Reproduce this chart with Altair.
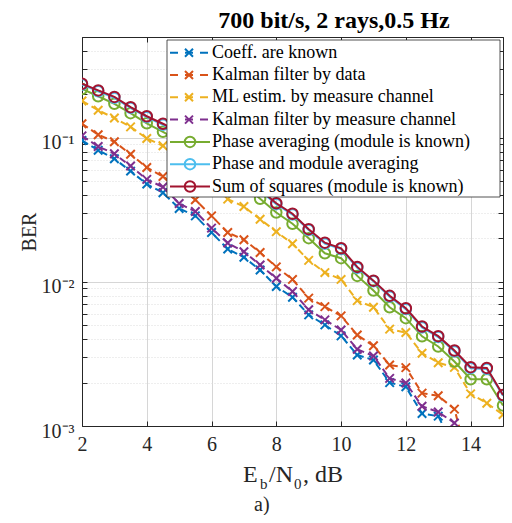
import altair as alt
import pandas as pd

# ---------------- data ----------------
EBN0 = [2.0, 2.5, 3.0, 3.5, 4.0, 4.5, 5.0, 5.5, 6.0, 6.5, 7.0, 7.5, 8.0, 8.5,
        9.0, 9.5, 10.0, 10.5, 11.0, 11.5, 12.0, 12.5, 13.0, 13.5, 14.0, 14.5, 15.0]

NAMES = [
    "Coeff. are known",
    "Kalman filter by data",
    "ML estim. by measure channel",
    "Kalman filter by measure channel",
    "Phase averaging (module is known)",
    "Phase and module averaging",
    "Sum of squares (module is known)",
]
COLORS = ["#0072BD", "#D95319", "#EDB120", "#7E2F8E", "#77AC30", "#4DBEEE", "#A2142F"]
DASHED = [True, True, True, True, False, False, False]

BER_COEFF = [0.0958, 0.0819, 0.0715, 0.0587, 0.0477, 0.0415, 0.0323, 0.0287, 0.0220,
             0.0169, 0.0148, 0.0121, 0.00928, 0.00783, 0.00590, 0.00503, 0.00422,
             0.00311, 0.00287, 0.00200, 0.00187, 0.00122, 0.00117, 0.0007]
BER_KALMAN_DATA = [0.125, 0.105, 0.0938, 0.0768, 0.0622, 0.0538, 0.0450, 0.0371, 0.0287,
                   0.0220, 0.0196, 0.0160, 0.0127, 0.0104, 0.00771, 0.00673, 0.00581,
                   0.00428, 0.00360, 0.00265, 0.00254, 0.00169, 0.00162, 0.00131, 0.0005]
BER_ML = [0.180, 0.155, 0.137, 0.119, 0.0989, 0.0880, 0.0726, 0.0581, 0.0450, 0.0375,
          0.0333, 0.0272, 0.0223, 0.0184, 0.0141, 0.0116, 0.0104, 0.00741, 0.00667,
          0.00470, 0.00445, 0.00320, 0.00275, 0.00255, 0.00167, 0.00144, 0.00120]
BER_KALMAN_MEAS = [0.103, 0.0870, 0.0774, 0.0636, 0.0514, 0.0455, 0.0350, 0.0308, 0.0236,
                   0.0186, 0.0162, 0.0131, 0.0106, 0.00857, 0.00640, 0.00545, 0.00464,
                   0.00341, 0.00306, 0.00214, 0.00199, 0.00137, 0.00125, 0.00105, 0.0006]
BER_PHASE = [0.218, 0.194, 0.172, 0.148, 0.126, 0.110, 0.0953, 0.0826, 0.0703, 0.0581,
             0.0472, 0.0377, 0.0303, 0.0253, 0.0201, 0.0158, 0.0146, 0.0110, 0.00871,
             0.00667, 0.00560, 0.00419, 0.00356, 0.00280, 0.00211, 0.00211, 0.00139]
BER_PHASE_MOD = [0.234, 0.210, 0.189, 0.161, 0.139, 0.123, 0.108, 0.094, 0.080, 0.066,
                 0.0545, 0.0429, 0.0346, 0.0293, 0.0229, 0.0184, 0.0169, 0.0125, 0.0101,
                 0.0079, 0.00647, 0.00483, 0.00414, 0.00329, 0.00252, 0.00249, 0.00162]
BER_SUMSQ = [0.237, 0.213, 0.192, 0.163, 0.141, 0.125, 0.110, 0.0953, 0.0812, 0.0670,
             0.0553, 0.0435, 0.0351, 0.0297, 0.0232, 0.0187, 0.0171, 0.0127, 0.0102,
             0.0080, 0.00656, 0.00490, 0.00420, 0.00334, 0.00256, 0.00253, 0.00164]

SERIES = [BER_COEFF, BER_KALMAN_DATA, BER_ML, BER_KALMAN_MEAS,
          BER_PHASE, BER_PHASE_MOD, BER_SUMSQ]

X_TICKS = [2, 4, 6, 8, 10, 12, 14]
Y_TICKS = [0.001, 0.002, 0.003, 0.004, 0.005, 0.006, 0.007, 0.008, 0.009,
           0.01, 0.02, 0.03, 0.04, 0.05, 0.06, 0.07, 0.08, 0.09,
           0.1, 0.2, 0.3, 0.4, 0.5]

TITLE = "700 bit/s, 2 rays,0.5 Hz"

# ---------------- styling ----------------
FONT = "Liberation Serif"
INK = "#262626"
MAJOR = "datum.value == 0.1 || datum.value == 0.01 || datum.value == 0.001"
X_SHAPE = "M-1,-1L1,1M-1,1L1,-1"
W, H = 421, 389

xs = alt.Scale(domain=[2, 15], nice=False, zero=False)
ys = alt.Scale(type="log", domain=[0.001, 0.5], nice=False)
cs = alt.Scale(domain=NAMES, range=COLORS)

x_axis = alt.Axis(values=X_TICKS, title=None, labelFont=FONT, labelFontSize=20,
                  labelColor=INK, labelPadding=13, labelFlush=False, labelOverlap=False,
                  tickSize={"expr": "-5"}, tickColor=INK, domainColor=INK,
                  gridColor="#d6d6d6")
y_axis = alt.Axis(values=Y_TICKS,
                  labelExpr="datum.value == 0.1 ? '10⁻¹' : datum.value == 0.01 ? '10⁻²' : datum.value == 0.001 ? '10⁻³' : ''",
                  title="BER", titleFont=FONT, titleFontSize=20, titleFontWeight="normal",
                  titleColor=INK, titlePadding=2,
                  labelFont=FONT, labelFontSize=20, labelColor=INK, labelPadding=13,
                  labelOverlap=False, labelFlush=False, labelOffset=5,
                  tickSize={"expr": "-5"}, tickColor=INK, domainColor=INK,
                  gridColor={"condition": {"test": MAJOR, "value": "#d6d6d6"}, "value": "#dcdcdc"},
                  gridDash={"condition": {"test": MAJOR, "value": []}, "value": [1, 2]})

color_enc = alt.Color("name:N", scale=cs, legend=None)

layers = []
first = True
for name, vals, dashed in zip(NAMES, SERIES, DASHED):
    d = pd.DataFrame({"name": name, "x": EBN0[:len(vals)], "ber": vals})

    def enc(with_axis):
        return dict(
            x=alt.X("x:Q", scale=xs, axis=x_axis if with_axis else None),
            y=alt.Y("ber:Q", scale=ys, axis=y_axis if with_axis else None),
            color=color_enc,
        )

    line_kw = dict(strokeWidth=2, clip=True)
    if dashed:
        line_kw["strokeDash"] = [7, 4]
    layers.append(alt.Chart(d).mark_line(**line_kw).encode(**enc(first)))
    first = False
    layers.append(
        alt.Chart(d).mark_point(shape=X_SHAPE if dashed else "circle",
                                size=72 if dashed else 110, filled=False,
                                strokeWidth=2, opacity=1, clip=True).encode(**enc(False))
    )

# box ticks on the top and right edges (MATLAB "box on")
frame_df = pd.DataFrame({"x": EBN0, "ber": BER_SUMSQ})
frame = alt.Chart(frame_df).mark_point(opacity=0).encode(
    x=alt.X("x:Q", scale=xs, axis=alt.Axis(orient="top", values=X_TICKS, labels=False,
                                           title=None, grid=False, tickSize={"expr": "-5"},
                                           tickColor=INK, domainColor=INK)),
    y=alt.Y("ber:Q", scale=ys, axis=alt.Axis(orient="right", values=Y_TICKS, labels=False,
                                             title=None, grid=False, tickSize={"expr": "-5"},
                                             tickColor=INK, domainColor=INK)),
)

# ---------------- legend (drawn as marks) ----------------
leg_df = pd.DataFrame({"name": NAMES, "row": list(range(len(NAMES))), "dashed": DASHED})
leg_y = alt.Y("row:Q", scale=alt.Scale(domain=[0, 6], range=[15.7, 149.5]), axis=None)

leg_box = alt.Chart(pd.DataFrame({"a": [0]})).mark_rect(
    fill="white", stroke=INK, strokeWidth=0.8
).encode(x=alt.value(85), x2=alt.value(418), y=alt.value(3), y2=alt.value(160))

leg_dash_line = alt.Chart(leg_df).transform_filter("datum.dashed").mark_rule(
    strokeWidth=2, strokeDash=[8, 7]
).encode(x=alt.value(88), x2=alt.value(128), y=leg_y, color=color_enc)
leg_dash_pt = alt.Chart(leg_df).transform_filter("datum.dashed").mark_point(
    shape=X_SHAPE, size=64, filled=False, strokeWidth=2, opacity=1
).encode(x=alt.value(107), y=leg_y, color=color_enc)
leg_solid_line = alt.Chart(leg_df).transform_filter("!datum.dashed").mark_rule(
    strokeWidth=2
).encode(x=alt.value(88), x2=alt.value(128), y=leg_y, color=color_enc)
leg_solid_pt = alt.Chart(leg_df).transform_filter("!datum.dashed").mark_point(
    shape="circle", size=110, filled=False, strokeWidth=2, opacity=1
).encode(x=alt.value(108), y=leg_y, color=color_enc)
leg_text = alt.Chart(leg_df).mark_text(
    font=FONT, fontSize=18, color="black", align="left", baseline="middle"
).encode(x=alt.value(130), y=leg_y, text="name:N")


def text_piece(txt, x, y, size, weight="normal", align="left", color=INK):
    return alt.Chart(pd.DataFrame({"t": [txt]})).mark_text(
        font=FONT, fontSize=size, fontWeight=weight, color=color, align=align,
        baseline="alphabetic"
    ).encode(x=alt.value(x), y=alt.value(y), text="t:N")


texts = [
    text_piece(TITLE, 252, -9, 24, weight="bold", align="center", color="black"),
    text_piece("E", 161, 445, 24),
    text_piece("b", 178, 451.5, 15),
    text_piece("/N", 187, 445, 24),
    text_piece("0", 212, 451.5, 15),
    text_piece(", dB", 221, 445, 24),
    text_piece("a)", 172, 473.5, 20),
]

chart = alt.layer(
    *layers, frame, leg_box, leg_dash_line, leg_solid_line, leg_dash_pt, leg_solid_pt,
    leg_text, *texts
).resolve_scale(
    x="independent", y="independent"
).resolve_axis(
    x="independent", y="independent"
).properties(
    width=W, height=H,
    autosize=alt.AutoSizeParams(type="none"),
    padding={"left": 74, "top": 29, "right": 1, "bottom": 89},
).configure_view(stroke=None).configure(background="white")

chart.save("out.html", embed_options={"renderer": "svg", "actions": False})
